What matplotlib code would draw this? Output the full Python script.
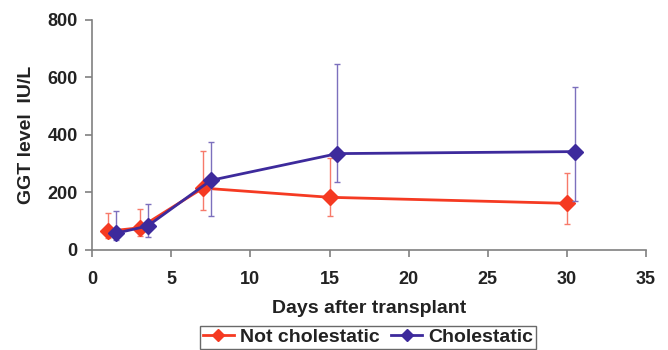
import matplotlib
matplotlib.use("Agg")
import matplotlib.pyplot as plt
from matplotlib.lines import Line2D

plt.rcParams['font.family'] = ['Liberation Sans', 'DejaVu Sans']
plt.rcParams['font.weight'] = 'bold'

# data
days_not = [1, 3, 7, 15, 30]
ggt_not = [65, 77, 215, 183, 162]
not_lo = [40, 50, 140, 118, 90]
not_hi = [127, 143, 345, 318, 267]

days_chol = [1.5, 3.5, 7.5, 15.5, 30.5]
ggt_chol = [58, 83, 242, 335, 342]
chol_lo = [35, 45, 118, 236, 170]
chol_hi = [135, 160, 375, 648, 568]

red = '#f53a22'
blue = '#3d2a9c'

fig = plt.figure(figsize=(6.68, 3.5), dpi=100)
ax = fig.add_axes([0.138, 0.286, 0.829, 0.657])

err_not = [[m - l for m, l in zip(ggt_not, not_lo)], [h - m for m, h in zip(ggt_not, not_hi)]]
err_chol = [[m - l for m, l in zip(ggt_chol, chol_lo)], [h - m for m, h in zip(ggt_chol, chol_hi)]]

ax.errorbar(days_not, ggt_not, yerr=err_not, color=red, ecolor='#f77a6a',
            elinewidth=1.0, capsize=2.5, capthick=1.0, marker='D', markersize=8,
            linewidth=2, zorder=3)
ax.errorbar(days_chol, ggt_chol, yerr=err_chol, color=blue, ecolor='#7c70bd',
            elinewidth=1.0, capsize=2.5, capthick=1.0, marker='D', markersize=8,
            linewidth=2, zorder=4)

ax.set_xlim(0, 35)
ax.set_ylim(0, 800)
ax.set_xticks(range(0, 36, 5))
ax.set_yticks(range(0, 801, 200))
ax.spines['top'].set_visible(False)
ax.spines['right'].set_visible(False)
for s in ['left', 'bottom']:
    ax.spines[s].set_color('#808080')
    ax.spines[s].set_linewidth(1.2)
ax.tick_params(colors='#808080', labelcolor='#222222', labelsize=13, length=5, width=1.2)
ax.tick_params(axis='x', pad=10)
ax.tick_params(axis='y', pad=5.5)
for lab in ax.get_xticklabels() + ax.get_yticklabels():
    lab.set_fontweight('bold')

ax.set_xlabel('Days after transplant', fontsize=14, fontweight='bold', color='#222222', labelpad=9)
ax.set_ylabel('GGT level  IU/L', fontsize=14, fontweight='bold', color='#222222', labelpad=9)

handles = [Line2D([], [], color=red, marker='D', markersize=6, linewidth=2),
           Line2D([], [], color=blue, marker='D', markersize=6, linewidth=2)]
leg = fig.legend(handles, ['Not cholestatic', 'Cholestatic'], loc='lower center',
                 bbox_to_anchor=(0.551, 0.003), ncol=2, fontsize=14,
                 frameon=True, fancybox=False, borderpad=0.15, handlelength=1.6,
                 columnspacing=0.6, handletextpad=0.3, borderaxespad=0)
leg.get_frame().set_edgecolor('#444444')
leg.get_frame().set_linewidth(1.0)
for t in leg.get_texts():
    t.set_fontweight('bold')
    t.set_color('#222222')

fig.savefig('out.png', dpi=100)
